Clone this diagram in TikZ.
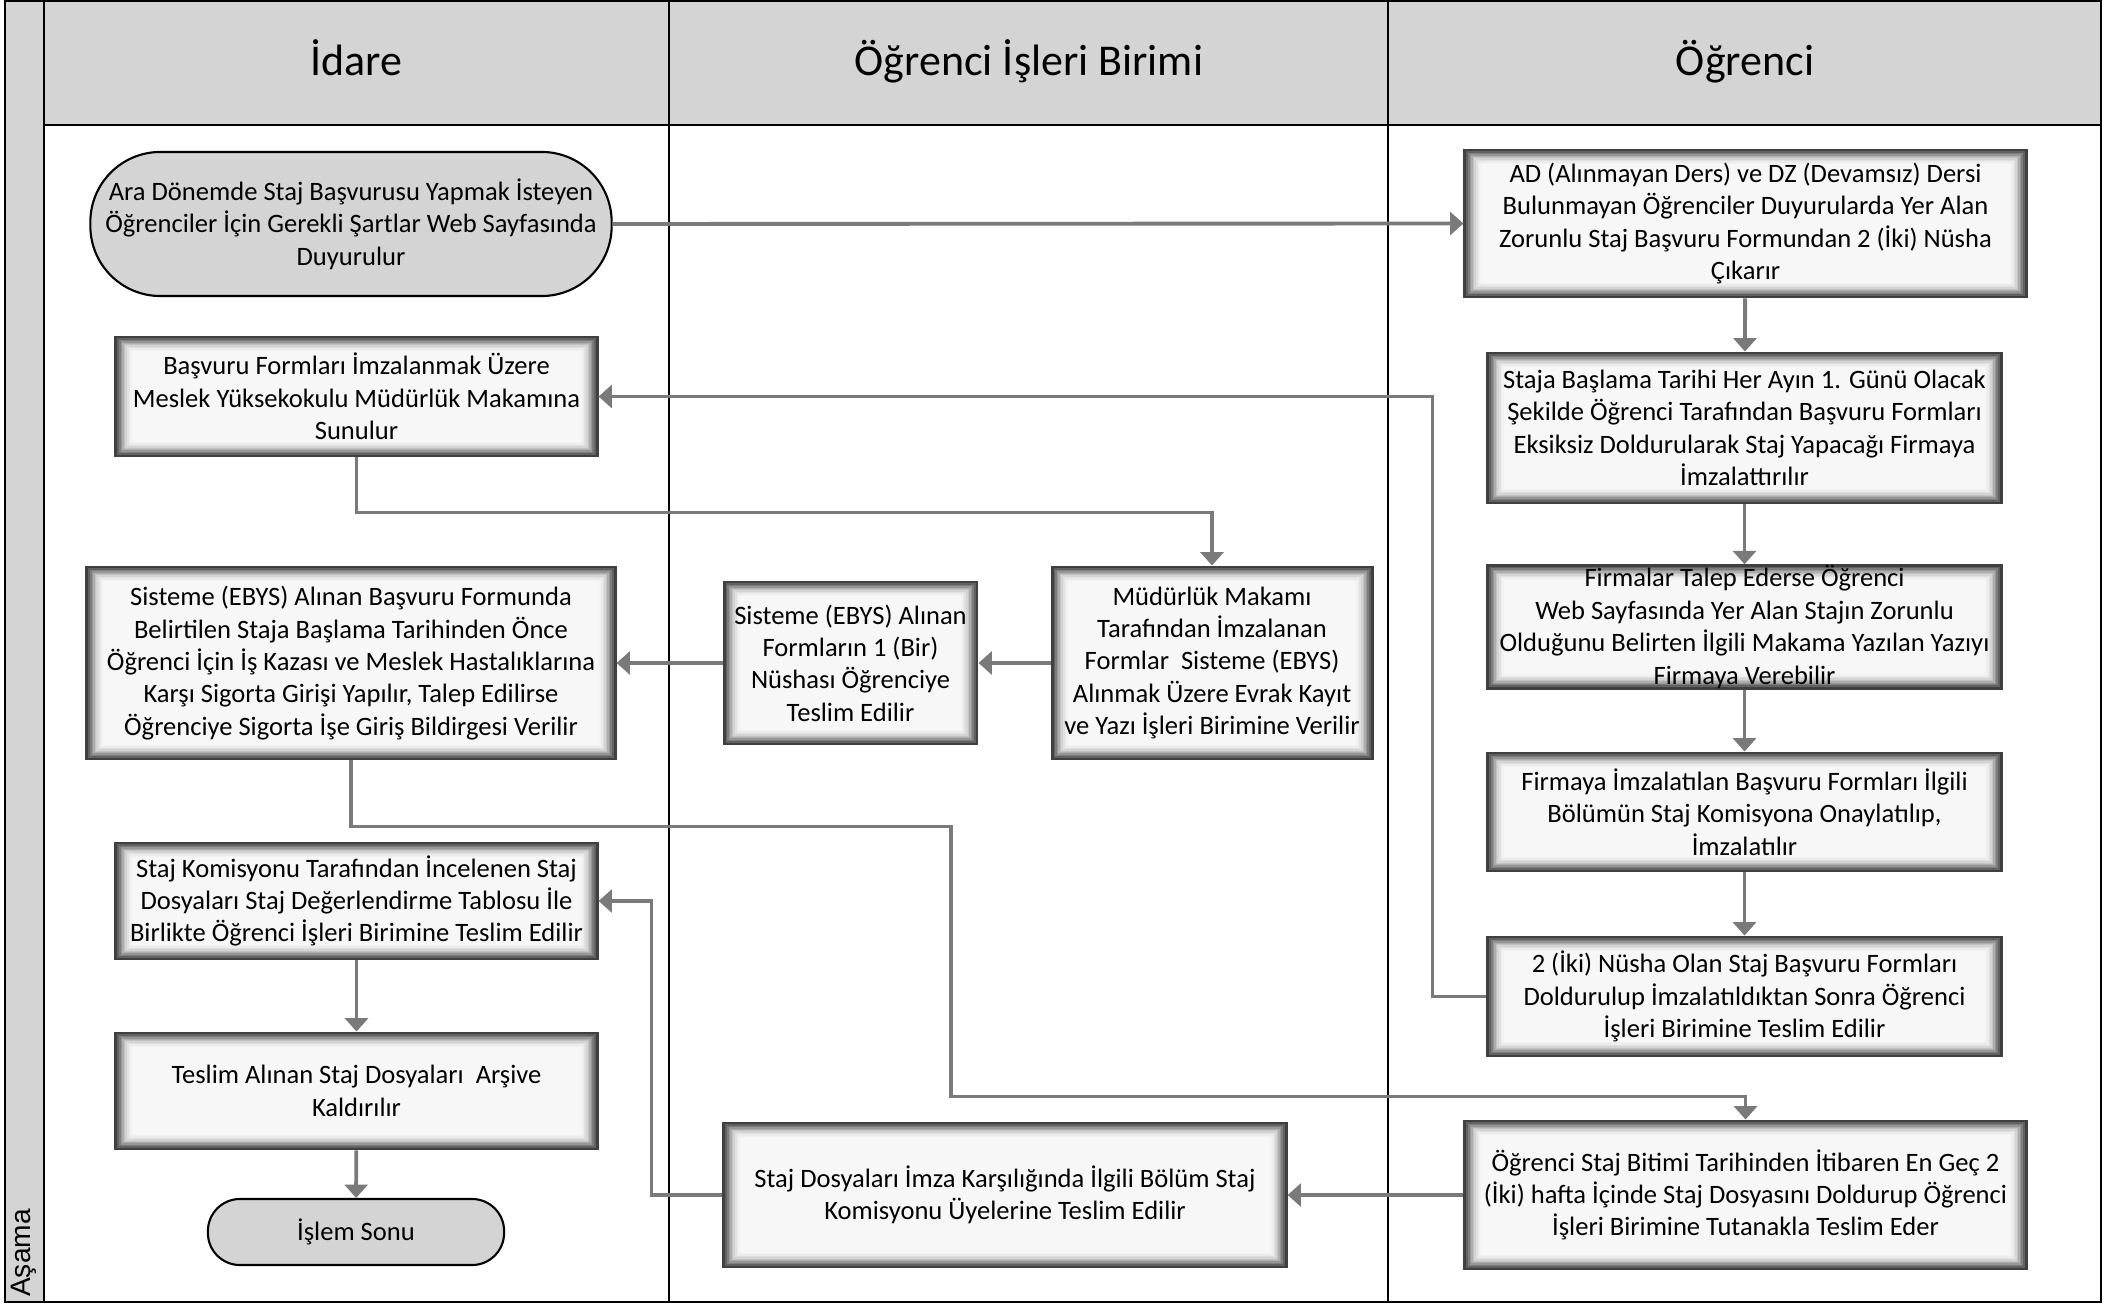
\documentclass[tikz,border=0pt]{standalone}
\usepackage{fontspec}
\setmainfont{Carlito}
\newfontfamily\asamafont{Liberation Sans}
\usetikzlibrary{arrows.meta}

\definecolor{lanegray}{HTML}{D4D4D4}
\definecolor{linegray}{HTML}{7A7A7A}
\newcommand{\boxfont}{\fontsize{7.55}{9.2}\selectfont}

\tikzset{
    lane/.style={draw=black, line width=0.6pt},
    headtext/.style={anchor=base, font=\fontsize{12.5}{15}\selectfont},
    terminal/.style={draw=black, line width=0.6pt, fill=lanegray, rounded corners=#1, align=center, font=\boxfont},
    taskbox/.style={draw=black!75, line width=0.8pt, align=center, font=\boxfont, inner sep=2pt,
        path picture={
            \foreach \k/\c in {0/74,1/62,2/51,3/41,4/32,5/24,6/17,7/12,8/8,9/5,10/3}
                \fill[black!\c] ([xshift=\k*0.45pt, yshift=\k*0.4pt]path picture bounding box.south west)
                    rectangle ([xshift=-\k*0.45pt, yshift=-\k*0.4pt]path picture bounding box.north east);
        }},
    conn/.style={draw=linegray, line width=1.1pt, -{Triangle[width=6.5pt, length=3.8pt]}}
}

\begin{document}
\begin{tikzpicture}[x=0.01cm, y=-0.01cm]
        \useasboundingbox (0, 0) rectangle (2107, 1304);
        % lanes
        \fill[lanegray] (5, 1) rectangle (44, 1302);
        \fill[lanegray] (44, 1) rectangle (2101, 125);
        \draw[lane] (5, 1) rectangle (2101, 1302);
        \draw[lane] (44, 1) -- (44, 1302);
        \draw[lane] (44, 125) -- (2101, 125);
        \draw[lane] (669, 1) -- (669, 1302);
        \draw[lane] (1388, 1) -- (1388, 1302);
        \node[headtext] (idare) at (356, 76) {İdare};
        \node[headtext] (oib) at (1029, 76) {Öğrenci İşleri Birimi};
        \node[headtext] (ogrenci) at (1745, 76) {Öğrenci};
        \node[rotate=90, anchor=west, inner sep=1pt, font=\asamafont\fontsize{8}{9}\selectfont] (asama) at (24, 1301) {Aşama};

        % İdare
        \node[terminal=7mm, minimum width=5.21cm, minimum height=1.44cm] (start) at (351, 224)
            {Ara Dönemde Staj Başvurusu Yapmak İsteyen\\Öğrenciler İçin Gerekli Şartlar Web Sayfasında\\Duyurulur};
        \node[taskbox, minimum width=4.81cm, minimum height=1.19cm] (basvuru) at (356.5, 396.5)
            {Başvuru Formları İmzalanmak Üzere\\Meslek Yüksekokulu Müdürlük Makamına\\Sunulur};
        \node[taskbox, minimum width=5.28cm, minimum height=1.92cm] (sigorta) at (351, 663)
            {Sisteme (EBYS) Alınan Başvuru Formunda\\Belirtilen Staja Başlama Tarihinden Önce\\Öğrenci İçin İş Kazası ve Meslek Hastalıklarına\\Karşı Sigorta Girişi Yapılır, Talep Edilirse\\Öğrenciye Sigorta İşe Giriş Bildirgesi Verilir};
        \node[taskbox, minimum width=4.81cm, minimum height=1.16cm] (komisyon) at (356.5, 901)
            {Staj Komisyonu Tarafından İncelenen Staj\\Dosyaları Staj Değerlendirme Tablosu İle\\Birlikte Öğrenci İşleri Birimine Teslim Edilir};
        \node[taskbox, minimum width=4.81cm, minimum height=1.16cm] (arsiv) at (356.5, 1091)
            {Teslim Alınan Staj Dosyaları\ \ Arşive\\Kaldırılır};
        \node[terminal=3.2mm, minimum width=2.96cm, minimum height=0.66cm] (sonu) at (356, 1232) {İşlem Sonu};

        % Öğrenci İşleri Birimi
        \node[taskbox, minimum width=2.53cm, minimum height=1.62cm] (nusha) at (850.5, 663)
            {Sisteme (EBYS) Alınan\\Formların 1 (Bir)\\Nüshası Öğrenciye\\Teslim Edilir};
        \node[taskbox, minimum width=3.2cm, minimum height=1.92cm] (mudurluk) at (1212, 663)
            {Müdürlük Makamı\\Tarafından İmzalanan\\Formlar\ \ Sisteme (EBYS)\\Alınmak Üzere Evrak Kayıt\\ve Yazı İşleri Birimine Verilir};
        \node[taskbox, minimum width=5.62cm, minimum height=1.44cm] (dosyalar) at (1005, 1195)
            {Staj Dosyaları İmza Karşılığında İlgili Bölüm Staj\\Komisyonu Üyelerine Teslim Edilir};

        % Öğrenci
        \node[taskbox, minimum width=5.61cm, minimum height=1.47cm] (ad) at (1745.5, 223.5)
            {AD (Alınmayan Ders) ve DZ (Devamsız) Dersi\\Bulunmayan Öğrenciler Duyurularda Yer Alan\\Zorunlu Staj Başvuru Formundan 2 (İki) Nüsha\\Çıkarır};
        \node[taskbox, minimum width=5.13cm, minimum height=1.5cm] (staja) at (1744.5, 428)
            {Staja Başlama Tarihi Her Ayın 1. Günü Olacak\\Şekilde Öğrenci Tarafından Başvuru Formları\\Eksiksiz Doldurularak Staj Yapacağı Firmaya\\İmzalattırılır};
        \node[taskbox, inner ysep=0pt, minimum width=5.13cm, minimum height=1.2cm] (firmalar) at (1744.5, 627)
            {Firmalar Talep Ederse Öğrenci\\Web Sayfasında Yer Alan Stajın Zorunlu\\Olduğunu Belirten İlgili Makama Yazılan Yazıyı\\Firmaya Verebilir};
        \node[taskbox, minimum width=5.13cm, minimum height=1.18cm] (firmaya) at (1744.5, 812)
            {Firmaya İmzalatılan Başvuru Formları İlgili\\Bölümün Staj Komisyona Onaylatılıp,\\İmzalatılır};
        \node[taskbox, minimum width=5.13cm, minimum height=1.19cm] (iki) at (1744.5, 996.5)
            {2 (İki) Nüsha Olan Staj Başvuru Formları\\Doldurulup İmzalatıldıktan Sonra Öğrenci\\İşleri Birimine Teslim Edilir};
        \node[taskbox, minimum width=5.61cm, minimum height=1.48cm] (bitim) at (1745.5, 1195)
            {Öğrenci Staj Bitimi Tarihinden İtibaren En Geç 2\\(İki) hafta İçinde Staj Dosyasını Doldurup Öğrenci\\İşleri Birimine Tutanakla Teslim Eder};

        % connectors
        \draw[conn] (start.east) -- (ad.west);
        \draw[conn] (ad) -- (staja);
        \draw[conn] (staja) -- (firmalar);
        \draw[conn] (firmalar) -- (firmaya);
        \draw[conn] (firmaya) -- (iki);
        \draw[conn] (iki.west) -- ++(-54, 0) |- (basvuru.east);
        \draw[conn] (basvuru.south) -- ++(0, 55) -| (mudurluk.north);
        \draw[conn] (mudurluk.west) -- (nusha.east);
        \draw[conn] (nusha.west) -- (sigorta.east);
        \draw[conn] (sigorta.south) -- ++(0, 66) -- ++(600, 0) -- ++(0, 270) -| (bitim.north);
        \draw[conn] (bitim.west) -- (dosyalar.east);
        \draw[conn] (dosyalar.west) -- ++(-71, 0) |- (komisyon.east);
        \draw[conn] (komisyon) -- (arsiv);
        \draw[conn] (arsiv) -- (sonu);
\end{tikzpicture}
\end{document}
